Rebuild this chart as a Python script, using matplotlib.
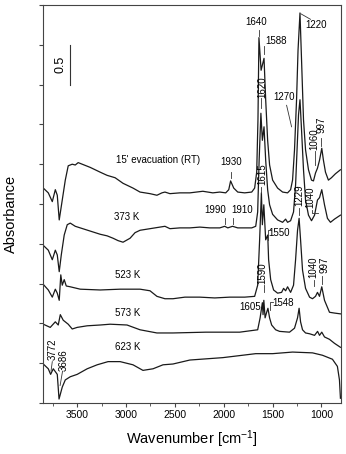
import matplotlib
matplotlib.use("Agg")
import matplotlib.pyplot as plt
from matplotlib.ticker import MultipleLocator

plt.rcParams['font.family'] = ['Liberation Sans', 'DejaVu Sans']
plt.rcParams['mathtext.default'] = 'regular'

# spectra (wavenumber cm-1, absorbance)
rt_wn = [3847, 3796, 3755, 3724, 3704, 3684, 3653, 3622, 3592, 3551, 3520, 3490, 3449, 3367,
         3265, 3194, 3112, 3031, 2929, 2857, 2755, 2684, 2633, 2602, 2551, 2449, 2347, 2214,
         2163, 2112, 2041, 1980, 1949, 1930, 1898, 1857, 1786, 1714, 1684, 1663, 1650, 1640,
         1618, 1588, 1571, 1551, 1531, 1500, 1449, 1398, 1347, 1316, 1296, 1276, 1255, 1240,
         1220, 1204, 1184, 1163, 1133, 1102, 1082, 1061, 1041, 1020, 997, 980, 959, 929, 898,
         857, 806]
rt_abs = [2.70, 2.64, 2.53, 2.68, 2.61, 2.30, 2.55, 2.80, 2.98, 3.00, 2.99, 3.02, 3.00, 2.96,
          2.90, 2.86, 2.83, 2.76, 2.70, 2.65, 2.63, 2.61, 2.64, 2.65, 2.63, 2.64, 2.64, 2.66,
          2.65, 2.64, 2.65, 2.64, 2.68, 2.79, 2.70, 2.65, 2.64, 2.65, 2.70, 2.90, 3.56, 4.59,
          4.18, 4.33, 3.81, 3.30, 2.99, 2.80, 2.70, 2.65, 2.64, 2.68, 2.80, 3.18, 3.81, 4.43,
          4.90, 4.31, 3.56, 3.18, 2.93, 2.80, 2.79, 2.89, 2.95, 3.05, 3.20, 3.05, 2.90, 2.80,
          2.83, 2.88, 2.93]

k373_wn = [3847, 3796, 3755, 3724, 3704, 3684, 3663, 3633, 3602, 3571, 3520, 3469, 3367, 3265,
           3194, 3133, 3082, 3031, 2959, 2908, 2857, 2755, 2653, 2602, 2551, 2449, 2347, 2245,
           2143, 2041, 1990, 1959, 1910, 1857, 1786, 1714, 1673, 1653, 1638, 1620, 1605, 1588,
           1571, 1551, 1531, 1500, 1449, 1398, 1367, 1347, 1316, 1286, 1265, 1250, 1235, 1220,
           1204, 1184, 1163, 1133, 1102, 1071, 1041, 1020, 997, 969, 939, 908, 867, 806]
k373_abs = [1.98, 1.92, 1.80, 1.92, 1.86, 1.65, 1.86, 2.11, 2.24, 2.26, 2.22, 2.20, 2.16, 2.12,
            2.10, 2.07, 2.04, 2.02, 2.07, 2.14, 2.17, 2.19, 2.21, 2.22, 2.19, 2.20, 2.20, 2.21,
            2.20, 2.20, 2.22, 2.20, 2.22, 2.20, 2.20, 2.20, 2.22, 2.40, 3.05, 3.64, 3.30, 3.47,
            3.05, 2.68, 2.49, 2.37, 2.30, 2.27, 2.31, 2.27, 2.29, 2.40, 2.74, 3.18, 3.62, 3.81,
            3.43, 2.93, 2.55, 2.36, 2.29, 2.36, 2.55, 2.58, 2.68, 2.49, 2.32, 2.27, 2.31, 2.36]

k523_wn = [3847, 3796, 3755, 3724, 3704, 3684, 3668, 3653, 3633, 3612, 3571, 3469, 3265, 3061,
           2857, 2755, 2684, 2602, 2520, 2398, 2245, 2092, 1939, 1786, 1684, 1653, 1633, 1615,
           1605, 1590, 1571, 1550, 1541, 1520, 1490, 1449, 1408, 1388, 1367, 1347, 1316, 1286,
           1265, 1245, 1229, 1214, 1194, 1163, 1122, 1092, 1061, 1041, 1020, 997, 969, 918,
           867, 806]
k523_abs = [1.49, 1.42, 1.33, 1.43, 1.38, 1.29, 1.61, 1.48, 1.55, 1.47, 1.46, 1.43, 1.42, 1.43,
            1.43, 1.41, 1.34, 1.31, 1.31, 1.33, 1.33, 1.32, 1.33, 1.33, 1.34, 1.48, 2.05, 2.64,
            2.24, 2.49, 2.05, 2.11, 1.80, 1.55, 1.42, 1.38, 1.39, 1.44, 1.41, 1.46, 1.39, 1.48,
            1.80, 2.17, 2.32, 2.05, 1.67, 1.44, 1.33, 1.31, 1.34, 1.39, 1.34, 1.46, 1.29, 1.14,
            1.13, 1.12]

k573_wn = [3847, 3776, 3724, 3694, 3673, 3643, 3592, 3551, 3500, 3398, 3265, 3163, 2990, 2857,
           2684, 2520, 2184, 1837, 1653, 1628, 1605, 1598, 1590, 1577, 1561, 1548, 1531, 1510,
           1469, 1429, 1327, 1276, 1245, 1229, 1214, 1194, 1163, 1122, 1071, 1040, 1020, 997,
           969, 918, 867, 806]
k573_abs = [0.99, 0.95, 1.02, 0.98, 1.11, 1.04, 0.99, 0.93, 0.95, 0.97, 0.98, 0.99, 0.98, 0.92,
            0.88, 0.88, 0.89, 0.89, 0.92, 1.07, 1.26, 1.11, 1.29, 1.07, 1.14, 1.19, 1.07, 0.98,
            0.92, 0.90, 0.89, 0.94, 1.07, 1.19, 1.02, 0.92, 0.88, 0.87, 0.85, 0.90, 0.85, 0.89,
            0.83, 0.80, 0.75, 0.70]

k623_wn = [3847, 3796, 3772, 3745, 3704, 3686, 3653, 3622, 3571, 3500, 3398, 3296, 3184, 3061,
           2929, 2827, 2724, 2622, 2520, 2347, 2010, 1673, 1500, 1296, 1092, 990, 888, 837,
           816, 806]
k623_abs = [0.49, 0.43, 0.36, 0.43, 0.36, 0.05, 0.20, 0.29, 0.33, 0.36, 0.43, 0.48, 0.52, 0.52,
            0.48, 0.41, 0.43, 0.48, 0.49, 0.54, 0.57, 0.62, 0.62, 0.64, 0.63, 0.60, 0.55, 0.46,
            0.29, 0.06]

spectra = [(rt_wn, rt_abs), (k373_wn, k373_abs), (k523_wn, k523_abs),
           (k573_wn, k573_abs), (k623_wn, k623_abs)]

trace_names = ["15' evacuation (RT)", "373 K", "523 K", "573 K", "623 K"]
trace_name_pos = [(2673, 3.05), (2990, 2.34), (2980, 1.61), (2980, 1.13), (2980, 0.70)]

# peak labels: text, x, y, rotation, pointer path
peak_labels = [
    ("1930", 1920, 3.03, 0, [(1930, 2.90), (1930, 2.83)]),
    ("1640", 1673, 4.79, 0, [(1640, 4.69), (1640, 4.61)]),
    ("1588", 1469, 4.55, 0, [(1588, 4.49), (1588, 4.38)]),
    ("1220", 1051, 4.75, 0, [(1212, 4.89), (1112, 4.82)]),
    ("1620", 1602, 3.97, 90, [(1620, 3.83), (1620, 3.70)]),
    ("1270", 1388, 3.84, 0, [(1357, 3.74), (1306, 3.47)]),
    ("1060", 1071, 3.31, 90, [(1071, 3.17), (1071, 2.99)]),
    ("997", 1000, 3.49, 90, [(1000, 3.33), (1000, 3.23)]),
    ("1990", 2092, 2.42, 0, [(1990, 2.32), (1990, 2.25)]),
    ("1910", 1816, 2.42, 0, [(1910, 2.32), (1910, 2.25)]),
    ("1615", 1602, 2.88, 90, [(1615, 2.71), (1615, 2.64)]),
    ("1229", 1230, 2.61, 90, [(1229, 2.45), (1229, 2.36)]),
    ("1040", 1112, 2.59, 90, [(1100, 2.42), (1100, 2.39), (1040, 2.39)]),
    ("1550", 1439, 2.14, 0, [(1551, 2.05), (1551, 2.17), (1520, 2.17)]),
    ("1590", 1602, 1.63, 90, [(1590, 1.48), (1590, 1.39)]),
    ("1040", 1085, 1.70, 90, [(1075, 1.55), (1075, 1.47)]),
    ("997", 965, 1.74, 90, [(990, 1.59), (990, 1.49)]),
    ("1605", 1735, 1.21, 0, None),
    ("1548", 1398, 1.26, 0, [(1531, 1.17), (1531, 1.27), (1500, 1.27)]),
    ("3772", 3755, 0.67, 90, [(3755, 0.52), (3768, 0.40)]),
    ("3686", 3643, 0.54, 90, [(3650, 0.40), (3675, 0.22)]),
]

fig = plt.figure(figsize=(3.46, 4.54), dpi=100)
ax = fig.add_axes([0.1243, 0.1123, 0.8613, 0.8767])

for wn, ab in spectra:
    ax.plot(wn, ab, color='#1a1a1a', lw=0.9)

for name, (x, y) in zip(trace_names, trace_name_pos):
    ax.text(x, y, name, fontsize=7, ha='center', va='center')

for txt, x, y, rot, ptr in peak_labels:
    ax.text(x, y, txt, fontsize=7, ha='center', va='center', rotation=rot)
    if ptr:
        ax.plot([p[0] for p in ptr], [p[1] for p in ptr], color='#333333', lw=0.6)

# 0.5 absorbance scale bar
ax.plot([3571, 3571], [4.0, 4.5], color='#333333', lw=0.8)
ax.text(3673, 4.25, "0.5", fontsize=9, rotation=90, ha='center', va='center')

ax.set_xlim(3850, 800)
ax.set_ylim(0, 5)
ax.xaxis.set_major_locator(MultipleLocator(500))
ax.xaxis.set_minor_locator(MultipleLocator(250))
ax.yaxis.set_major_locator(MultipleLocator(0.5))
ax.set_yticklabels([])
ax.tick_params(axis='both', which='major', direction='out', length=3, width=0.8,
               labelsize=7.5, pad=2, color='#444444')
ax.tick_params(axis='x', which='minor', direction='out', length=2, width=0.6, color='#444444')
for sp in ax.spines.values():
    sp.set_linewidth(0.8)
    sp.set_color('#444444')

ax.set_xlabel("Wavenumber [cm$^{-1}$]", fontsize=10.5, labelpad=6)
ax.set_ylabel("Absorbance", fontsize=10.5)
ax.yaxis.set_label_coords(-0.085, 0.475)

fig.savefig("out.png", dpi=100)
